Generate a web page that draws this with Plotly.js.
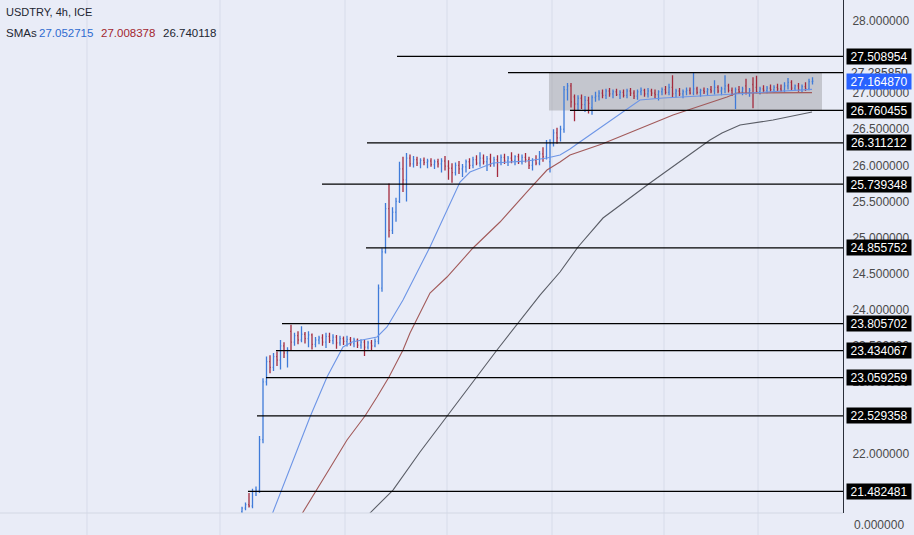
<!DOCTYPE html>
<html>
<head>
<meta charset="utf-8">
<script src="https://cdn.plot.ly/plotly-3.0.1.min.js"></script>
<style>
html,body{margin:0;padding:0;background:#e9ecf7;}
#chart{width:914px;height:535px;}
</style>
</head>
<body>
<div id="chart"></div>
<script>
// ---- data (4h OHLC bars) ----
const opens = [
21.20,21.25,21.30,21.28,21.48,21.50,22.20,23.00,23.28,23.20,
23.35,23.30,23.50,23.40,23.70,23.55,23.64,23.58,23.66,23.60,
23.65,23.52,23.58,23.61,23.55,23.63,23.57,23.62,23.54,23.60,
23.56,23.59,23.53,23.58,23.51,23.55,23.48,23.54,23.50,23.56,
24.30,24.80,25.40,25.10,25.35,25.50,25.95,25.80,26.10,26.02,
26.08,26.03,26.07,26.04,26.06,26.01,26.05,26.02,26.06,25.99,
25.96,25.90,26.00,25.95,25.98,26.05,26.00,26.08,26.03,26.10,
26.05,26.09,26.02,26.08,26.04,26.11,26.06,26.10,26.07,26.12,
26.05,26.11,26.08,26.00,26.07,26.03,26.16,26.12,26.05,26.30,
26.45,26.38,26.50,27.05,27.10,26.95,26.85,26.93,26.84,26.90,
26.80,26.94,26.96,27.00,26.97,27.03,26.99,27.02,26.98,27.01,
26.97,27.03,27.00,26.96,27.02,27.04,26.99,27.03,27.00,26.98,
27.02,27.05,27.01,27.08,27.00,27.03,26.99,27.02,27.04,27.00,
27.06,27.01,27.04,27.02,27.05,27.03,27.08,27.03,27.06,27.10,
27.04,26.95,27.05,27.02,27.10,27.00,27.12,27.08,27.02,27.06,
27.04,27.07,27.05,27.08,27.06,27.04,27.10,27.15,27.07,27.10,
27.05,27.09,27.06,27.16];
const highs = [
21.27,21.33,21.46,21.52,21.55,22.25,23.05,23.35,23.37,23.40,
23.42,23.58,23.55,23.48,23.79,23.68,23.70,23.77,23.69,23.70,
23.67,23.62,23.64,23.66,23.68,23.68,23.66,23.65,23.64,23.63,
23.64,23.62,23.61,23.60,23.59,23.58,23.57,23.58,23.60,24.35,
24.85,25.48,25.75,25.42,25.55,26.05,26.12,26.17,26.15,26.13,
26.12,26.10,26.11,26.09,26.10,26.08,26.09,26.10,26.13,26.07,
26.03,26.04,26.06,26.02,26.08,26.10,26.12,26.14,26.18,26.15,
26.13,26.16,26.12,26.14,26.15,26.16,26.13,26.18,26.14,26.16,
26.15,26.17,26.12,26.10,26.14,26.20,26.25,26.35,26.36,26.50,
26.52,26.55,27.10,27.14,27.14,26.98,26.97,26.98,26.96,26.95,
26.97,27.02,27.04,27.05,27.06,27.07,27.05,27.06,27.04,27.05,
27.06,27.07,27.04,27.05,27.08,27.06,27.07,27.06,27.05,27.04,
27.08,27.10,27.13,27.25,27.06,27.07,27.05,27.08,27.08,27.29,
27.09,27.06,27.08,27.07,27.10,27.18,27.11,27.09,27.25,27.13,
27.08,27.08,27.10,27.09,27.20,27.07,27.22,27.24,27.09,27.11,
27.10,27.12,27.11,27.13,27.12,27.15,27.21,27.18,27.12,27.14,
27.12,27.15,27.20,27.22];
const lows = [
21.18,21.22,21.26,21.25,21.42,21.46,22.15,22.95,23.12,23.15,
23.22,23.17,23.33,23.20,23.43,23.50,23.52,23.55,23.53,23.48,
23.45,23.48,23.52,23.50,23.47,23.54,23.52,23.46,23.50,23.51,
23.49,23.50,23.48,23.47,23.46,23.36,23.45,23.44,23.48,23.52,
24.25,24.78,25.00,25.05,25.22,25.48,25.63,25.50,25.98,25.97,
25.99,25.96,26.00,25.96,25.98,25.95,25.97,25.90,25.93,25.80,
25.76,25.86,25.88,25.84,25.90,25.95,25.96,26.00,25.98,26.01,
25.92,25.98,25.98,25.84,26.00,26.02,25.99,26.03,26.00,26.02,
26.01,26.04,25.95,25.93,26.00,26.00,26.05,26.08,25.90,26.26,
26.30,26.33,26.45,26.90,26.80,26.61,26.76,26.78,26.74,26.72,
26.70,26.88,26.90,26.93,26.92,26.95,26.93,26.96,26.92,26.94,
26.93,26.96,26.92,26.91,26.97,26.95,26.94,26.96,26.93,26.90,
26.97,26.98,26.97,26.94,26.94,26.96,26.93,26.97,26.98,26.97,
26.98,26.95,26.99,26.96,27.00,26.98,27.00,26.97,27.00,27.01,
26.96,26.78,26.99,26.97,26.98,26.95,26.79,27.00,26.98,27.01,
27.00,27.02,27.01,27.03,27.02,27.01,27.05,27.04,27.03,27.02,
27.01,27.03,27.04,27.12];
const closes = [
21.25,21.30,21.28,21.48,21.50,22.20,23.00,23.28,23.20,23.35,
23.30,23.50,23.40,23.44,23.55,23.64,23.58,23.66,23.60,23.65,
23.52,23.58,23.61,23.55,23.63,23.57,23.62,23.54,23.60,23.56,
23.59,23.53,23.58,23.51,23.55,23.48,23.54,23.50,23.56,24.30,
24.80,25.40,25.10,25.35,25.50,25.95,25.80,26.10,26.02,26.08,
26.03,26.07,26.04,26.06,26.01,26.05,26.02,26.06,25.99,25.96,
25.90,26.00,25.95,25.98,26.05,26.00,26.08,26.03,26.10,26.05,
26.09,26.02,26.08,26.04,26.11,26.06,26.10,26.07,26.12,26.05,
26.11,26.08,26.00,26.07,26.03,26.16,26.12,26.30,26.30,26.45,
26.38,26.50,27.05,27.10,26.88,26.85,26.93,26.84,26.90,26.86,
26.94,26.96,27.00,26.97,27.03,26.99,27.02,26.98,27.01,26.97,
27.03,27.00,26.96,27.02,27.04,26.99,27.03,27.00,26.98,27.02,
27.05,27.01,27.08,26.99,27.03,26.99,27.02,27.04,27.00,27.06,
27.01,27.04,27.02,27.05,27.03,27.08,27.03,27.06,27.10,27.04,
26.99,27.05,27.02,27.06,27.00,27.04,27.00,27.02,27.06,27.04,
27.07,27.05,27.08,27.06,27.04,27.10,27.15,27.07,27.10,27.05,
27.09,27.06,27.16,27.165];

// SMA lines (bar index, value)
const smaFastX = [7.71,8.86,19.43,24.29,28.86,31.43,38.57,41.43,46,53.71,62.29,65.14,71.71,81.43,87.14,90.86,93.71,95.71,113.71,120.29,130.86,145.14,162.86];
const smaFastY = [21.044,21.197,22.513,23.067,23.483,23.552,23.622,23.760,24.134,24.869,25.769,25.908,26.032,26.060,26.102,26.143,26.226,26.296,26.905,26.933,26.961,27.002,27.053];
const smaMidX = [16.57,17.43,21.14,25.14,30,35.14,38.57,42,46,48,53.71,58.57,66,73.71,81.43,87.14,90.86,93.71,102.86,123.14,138.57,141.43,162.86];
const smaMidY = [21.127,21.197,21.488,21.806,22.194,22.527,22.790,23.067,23.441,23.677,24.231,24.453,24.855,25.215,25.631,25.935,26.046,26.143,26.296,26.698,26.947,27.002,27.008];
const smaSlowX = [35.43,36.57,43.14,50.86,72.86,85.14,90.86,96,103.14,116.57,133.71,137.14,142.29,151.71,162.86];
const smaSlowY = [21.113,21.183,21.501,22.028,23.441,24.203,24.522,24.869,25.270,25.755,26.351,26.448,26.559,26.628,26.740];

// horizontal levels drawn on the chart and where each starts (bar index)
const levels     = [27.508954,27.285850,26.760455,26.311212,25.739348,24.855752,23.805702,23.434067,23.059259,22.529358,21.482481];
const levelStart = [44.29,76,93.71,35.71,22.86,35.43,11.43,9.71,6.86,4.29,1.71];
const boxedLevels = [27.508954,26.760455,26.311212,25.739348,24.855752,23.805702,23.434067,23.059259,22.529358,21.482481];
const boxRange = {x: [87.71,165.71], y: [26.760455,27.285850]};
const lastPrice = 27.164870;
const smaLegend = ['27.052715','27.008378','26.740118'];
const timeGridIdx = [-44.29,-6.29,29.43,58.57,88.57,120.57,147.43];

const barIdx = opens.map((_, i) => i);
const X_RANGE = [-69.14, 171.71];
const Y_RANGE = [21.183, 28.291];
const FONT = 'Liberation Sans, Arial, sans-serif';

const traces = [
  {type:'scatter',mode:'lines',x:smaSlowX,y:smaSlowY,line:{color:'#5a5d66',width:1.1},hoverinfo:'skip'},
  {type:'scatter',mode:'lines',x:smaMidX,y:smaMidY,line:{color:'#a25a5a',width:1.1},hoverinfo:'skip'},
  {type:'scatter',mode:'lines',x:smaFastX,y:smaFastY,line:{color:'#6d95e6',width:1.1},hoverinfo:'skip'},
  {type:'ohlc',x:barIdx,open:opens,high:highs,low:lows,close:closes,tickwidth:0.25,
   increasing:{line:{color:'#3f7bd9',width:1.3}},decreasing:{line:{color:'#a42a3d',width:1.3}},hoverinfo:'skip'}
];

const shapes = [];
timeGridIdx.forEach(v => shapes.push({type:'line',xref:'x',yref:'paper',x0:v,x1:v,y0:0,y1:1,line:{color:'#d7dcea',width:1},layer:'below'}));
shapes.push({type:'rect',xref:'x',yref:'y',x0:boxRange.x[0],x1:boxRange.x[1],y0:boxRange.y[0],y1:boxRange.y[1],fillcolor:'rgba(130,130,130,0.35)',line:{width:0},layer:'below'});
levels.forEach((v,i) => shapes.push({type:'line',xref:'x',yref:'y',x0:levelStart[i],x1:X_RANGE[1],y0:v,y1:v,line:{color:'#000000',width:1.3}}));
shapes.push({type:'line',xref:'paper',yref:'paper',x0:0,x1:1,y0:22/535,y1:22/535,line:{color:'#d3d8e4',width:1}});

const LX = 879/843;
const annotations = [];
annotations.push({xref:'paper',yref:'y',x:LX,y:levels[1],text:levels[1].toFixed(6),showarrow:false,xanchor:'center',yanchor:'middle',font:{family:FONT,size:12,color:'#3a3a3a'}});
boxedLevels.forEach(v => annotations.push({xref:'paper',yref:'y',x:LX,y:v,text:v.toFixed(6),showarrow:false,xanchor:'center',yanchor:'middle',
  bgcolor:'#000000',width:62,height:13,borderpad:1,font:{family:FONT,size:12,color:'#ffffff'}}));
annotations.push({xref:'paper',yref:'y',x:LX,y:lastPrice,text:lastPrice.toFixed(6),showarrow:false,xanchor:'center',yanchor:'middle',
  bgcolor:'#2962ff',width:62,height:13,borderpad:1,font:{family:FONT,size:12,color:'#ffffff'}});
annotations.push({xref:'paper',yref:'paper',x:LX,y:10/535,text:'0.000000',showarrow:false,xanchor:'center',yanchor:'middle',font:{family:FONT,size:12,color:'#4a4a4a'}});
// header
annotations.push({xref:'paper',yref:'paper',x:4/843,y:1-12/535,text:'USDTRY, 4h, ICE',showarrow:false,xanchor:'left',yanchor:'middle',font:{family:FONT,size:11,color:'#222631'}});
annotations.push({xref:'paper',yref:'paper',x:4/843,y:1-33/535,text:'SMAs',showarrow:false,xanchor:'left',yanchor:'middle',font:{family:FONT,size:11.5,color:'#222631'}});
const smaCols = ['#2f6bd0','#a3262f','#222631'];
const smaXs = [37,99,161];
smaLegend.forEach((t,i) => annotations.push({xref:'paper',yref:'paper',x:smaXs[i]/843,y:1-33/535,text:t,showarrow:false,xanchor:'left',yanchor:'middle',font:{family:FONT,size:11.5,color:smaCols[i]}}));

const layout = {
  width:914,height:535,
  margin:{l:0,r:71,t:0,b:0,pad:0},
  paper_bgcolor:'#e9ecf7',plot_bgcolor:'#e9ecf7',
  showlegend:false,
  xaxis:{range:X_RANGE,showticklabels:false,showgrid:false,zeroline:false,showline:false,ticks:'',rangeslider:{visible:false},fixedrange:true},
  yaxis:{range:Y_RANGE,domain:[22/535,1],side:'right',showgrid:false,zeroline:false,showline:true,linecolor:'#2a2e39',linewidth:1,
    tickmode:'linear',tick0:0,dtick:0.5,tickformat:'.6f',ticks:'outside',ticklen:6,tickcolor:'rgba(0,0,0,0)',
    tickfont:{family:FONT,size:12,color:'#4a4a4a'},fixedrange:true},
  shapes:shapes,
  annotations:annotations
};

Plotly.newPlot('chart',traces,layout,{displayModeBar:false,staticPlot:true});
</script>
</body>
</html>
